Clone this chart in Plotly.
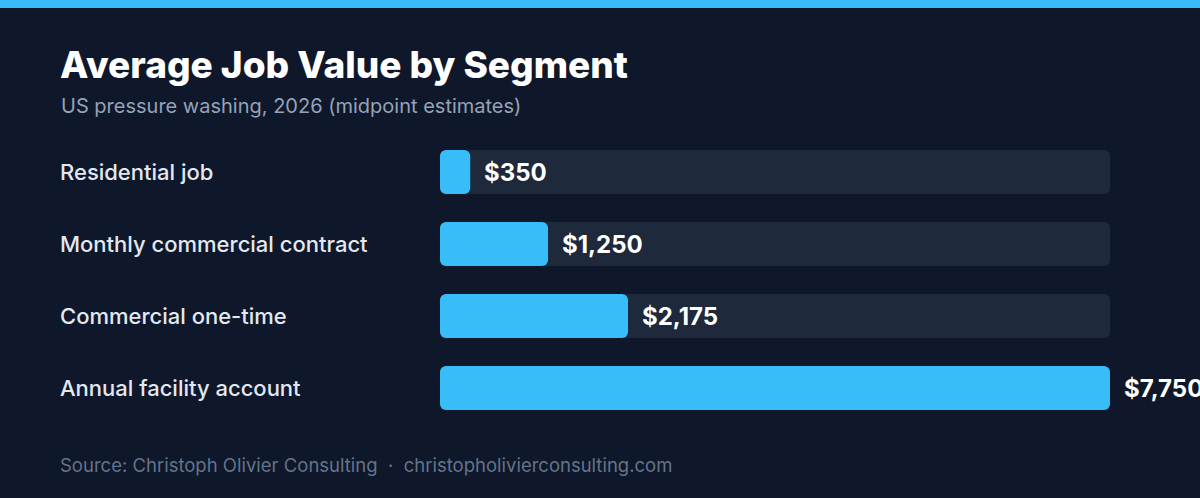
import plotly.graph_objects as go

segments = ["Residential job", "Monthly commercial contract",
            "Commercial one-time", "Annual facility account"]
avg_value = [350, 1250, 2175, 7750]
track_max = 7750

BG = "#0f172a"
TRACK = "#1e293b"
BAR = "#38bdf8"
FONT = "Inter"

W, H = 1200, 498
ML, MR, MT, MB = 440, 90, 136, 74
PW, PH = W - ML - MR, H - MT - MB


def px_x(px):
    return (px - ML) / PW


def px_y(py):
    return (H - MB - py) / PH


fig = go.Figure()

# explicit base -> plotly rounds both ends; own y axis each so neither bar
# loses its rounding to the other in overlay mode
fig.add_trace(go.Bar(
    y=segments, x=[track_max] * len(segments), base=[0] * len(segments),
    orientation="h", yaxis="y",
    marker=dict(color=TRACK, line=dict(width=0)),
    hoverinfo="skip", showlegend=False,
))
fig.add_trace(go.Bar(
    y=segments, x=avg_value, base=[0] * len(segments),
    orientation="h", yaxis="y2",
    marker=dict(color=BAR, line=dict(width=0)),
    hovertemplate="%{y}: $%{x:,}<extra></extra>", showlegend=False,
))

annotations = []
for seg, val in zip(segments, avg_value):
    # value label right of the bar
    annotations.append(dict(
        x=val, y=seg, xref="x", yref="y", xanchor="left", yanchor="middle",
        xshift=12, text=f"${val:,}", showarrow=False,
        font=dict(family=FONT, size=24, color="#ffffff", weight=700),
    ))
    # category label on the left
    annotations.append(dict(
        x=px_x(58), y=seg, xref="paper", yref="y", xanchor="left", yanchor="middle",
        text=seg, showarrow=False,
        font=dict(family=FONT, size=22, color="#e2e8f0", weight=500),
    ))

annotations += [
    dict(x=px_x(58), y=px_y(64), xref="paper", yref="paper", xanchor="left", yanchor="middle",
         text="Average Job Value by Segment", showarrow=False,
         font=dict(family=FONT, size=37, color="#ffffff", weight=800)),
    dict(x=px_x(59), y=px_y(106), xref="paper", yref="paper", xanchor="left", yanchor="middle",
         text="US pressure washing, 2026 (midpoint estimates)", showarrow=False,
         font=dict(family=FONT, size=20, color="#94a3b8")),
    dict(x=px_x(58), y=px_y(465), xref="paper", yref="paper", xanchor="left", yanchor="middle",
         text="Source: Christoph Olivier Consulting  \u00b7  christopholivierconsulting.com",
         showarrow=False, font=dict(family=FONT, size=18.5, color="#64748b")),
]

yax = dict(autorange="reversed", visible=False, fixedrange=True,
           categoryorder="array", categoryarray=segments)

fig.update_layout(
    width=W, height=H,
    margin=dict(l=ML, r=MR, t=MT, b=MB, pad=0),
    paper_bgcolor=BG, plot_bgcolor=BG,
    barmode="overlay", bargap=1 - 44 / 72, barcornerradius=6,
    xaxis=dict(range=[0, track_max], visible=False, fixedrange=True),
    yaxis=yax,
    yaxis2=dict(yax, overlaying="y"),
    annotations=annotations,
    shapes=[dict(type="rect", xref="paper", yref="paper",
                 x0=px_x(0), x1=px_x(W), y0=px_y(8), y1=px_y(0),
                 fillcolor=BAR, line=dict(width=0), layer="above")],
)

fig.write_html("out.html", config={"displayModeBar": False},
               post_script="document.body.style.margin='0';")
